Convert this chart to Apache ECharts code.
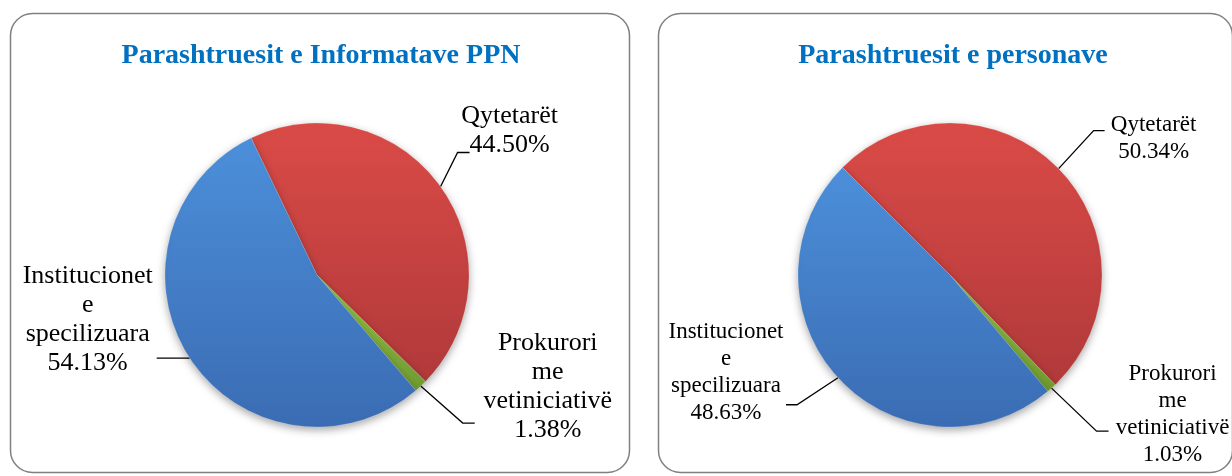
<!DOCTYPE html>
<html>
<head>
<meta charset="utf-8">
<script src="https://cdn.jsdelivr.net/npm/echarts@6/dist/echarts.min.js"></script>
<style>
  html, body { margin: 0; padding: 0; background: #ffffff; }
  #chart { width: 1232px; height: 476px; }
</style>
</head>
<body>
<div id="chart"></div>
<script>
// ---- data ----
var categories = ['Qytetarët', 'Prokurori me vetiniciativë', 'Institucionet e specilizuara'];
var informataValues = [44.50, 1.38, 54.13];
var personaValues = [50.34, 1.03, 48.63];
var chartTitles = ['Parashtruesit e Informatave PPN', 'Parashtruesit e personave'];

// ---- styles ----
var FONT = 'Liberation Serif';
function grad(top, bottom) {
  return new echarts.graphic.LinearGradient(0, 0, 0, 1, [
    { offset: 0, color: top }, { offset: 1, color: bottom }
  ]);
}
var sliceColors = [
  grad('#DA4B47', '#B1393A'),
  grad('#98C64B', '#6F9A2F'),
  grad('#4C8FDA', '#3A6CB3')
];

// label placement (offsets relative to the leader-line anchor on the pie rim)
// elbow: [dx, dy] from anchor; tail: horizontal length after elbow; text: [dx, dy] from anchor
var leftPlacement = [
  { elbow: [17, -34], tail: 12, text: [69, -56] },
  { elbow: [42, 37], tail: 12, text: [127, 1] },
  { elbow: [-17, 0], tail: -16, text: [-102, -38] }
];
var rightPlacement = [
  { elbow: [35, -38], tail: 11, text: [95, -30] },
  { elbow: [45, 43], tail: 12, text: [121, 26] },
  { elbow: [-41, 27], tail: -11, text: [-112, -5] }
];

function makeData(values) {
  return categories.map(function (c, i) {
    return { name: c, value: values[i], itemStyle: { color: sliceColors[i] } };
  });
}

function labelLayoutFor(placement) {
  return function (params) {
    var p = placement[params.dataIndex];
    var pts = params.labelLinePoints;
    if (!pts) return {};
    var a = pts[0];
    var e = [a[0] + p.elbow[0], a[1] + p.elbow[1]];
    var t = [e[0] + p.tail, e[1]];
    return {
      x: a[0] + p.text[0],
      y: a[1] + p.text[1],
      align: 'center',
      verticalAlign: 'middle',
      labelLinePoints: [a, e, t]
    };
  };
}

function pieSeries(values, center, radius, startAngle, placement, fontSize, lh) {
  return {
    type: 'pie',
    center: center,
    radius: radius,
    startAngle: startAngle,
    clockwise: true,
    avoidLabelOverlap: false,
    animation: false,
    data: makeData(values),
    itemStyle: {
      borderColor: 'rgba(255,255,255,0.25)',
      borderWidth: 0.6,
      shadowBlur: 8,
      shadowColor: 'rgba(0,0,0,0.35)',
      shadowOffsetY: 3
    },
    label: {
      show: true,
      position: 'outside',
      fontFamily: FONT,
      fontSize: fontSize,
      lineHeight: lh,
      color: '#000000',
      formatter: function (p) {
        return p.name.split(' ').join('\n') + '\n' + p.value.toFixed(2) + '%';
      }
    },
    labelLine: {
      show: true,
      length: 10,
      length2: 10,
      lineStyle: { color: '#000000', width: 1.3 }
    },
    labelLayout: labelLayoutFor(placement),
    emphasis: { disabled: true }
  };
}

var chart = echarts.init(document.getElementById('chart'), null, { renderer: 'canvas' });
chart.setOption({
  backgroundColor: '#ffffff',
  animation: false,
  title: [
    {
      text: chartTitles[0], left: 316, top: 37, textAlign: 'center',
      textStyle: { fontFamily: FONT, fontWeight: 'bold', fontSize: 28, color: '#0070C0' }
    },
    {
      text: chartTitles[1], left: 948, top: 37, textAlign: 'center',
      textStyle: { fontFamily: FONT, fontWeight: 'bold', fontSize: 28, color: '#0070C0' }
    }
  ],
  graphic: [
    {
      type: 'rect', left: 8, top: 11, z: -1,
      shape: { width: 619, height: 459, r: 22 },
      style: { fill: 'none', stroke: '#808080', lineWidth: 1.5 }
    },
    {
      type: 'rect', left: 656, top: 11, z: -1,
      shape: { width: 574, height: 459, r: 22 },
      style: { fill: 'none', stroke: '#808080', lineWidth: 1.5 }
    }
  ],
  series: [
    pieSeries(informataValues, [317, 275], 152, 115.7, leftPlacement, 26, 29),
    pieSeries(personaValues, [950, 275], 152, 135, rightPlacement, 23, 27)
  ]
});
</script>
</body>
</html>
